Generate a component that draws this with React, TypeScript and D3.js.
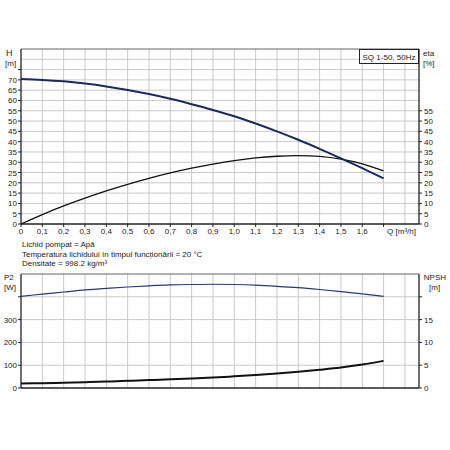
import React from 'react';
import * as d3 from 'd3';

// flow points (m3/h) shared by all curves
const flow = [0, 0.1, 0.2, 0.3, 0.4, 0.5, 0.6, 0.7, 0.8, 0.9, 1.0, 1.1, 1.2, 1.3, 1.4, 1.5, 1.6, 1.7];
const head = [70.4, 70.0, 69.3, 68.2, 66.8, 65.1, 63.1, 60.8, 58.2, 55.4, 52.3, 48.8, 45.0, 40.9, 36.5, 31.9, 27.1, 22.2];
const eta = [0, 4.6, 8.8, 12.6, 16.1, 19.3, 22.2, 24.8, 27.1, 29.1, 30.8, 32.1, 32.9, 33.2, 32.8, 31.5, 29.2, 25.8];
const power = [402, 412, 421, 430, 437, 443, 448, 452, 454, 455, 454, 451, 446, 440, 432, 423, 413, 402];
const npsh = [1.0, 1.05, 1.15, 1.28, 1.42, 1.57, 1.73, 1.9, 2.08, 2.3, 2.55, 2.84, 3.17, 3.55, 4.0, 4.5, 5.15, 5.95];

const qTicks = [0, 0.1, 0.2, 0.3, 0.4, 0.5, 0.6, 0.7, 0.8, 0.9, 1.0, 1.1, 1.2, 1.3, 1.4, 1.5, 1.6];
const qGrid = d3.range(1, 19).map(i => i / 10);
const hTicks = d3.range(0, 75, 5);
const etaTicks = d3.range(0, 60, 5);
const pTicks = [0, 100, 200, 300];
const npshTicks = [0, 5, 10, 15];

const notes = [
  'Lichid pompat = Apă',
  'Temperatura lichidului în timpul funcționării = 20 °C',
  'Densitate = 998.2 kg/m³',
];

const font = '"Liberation Sans", Arial, sans-serif';
const ink = '#222';
const grid = '#c9c9c9';

export default function App() {
  const x = d3.scaleLinear().domain([0, 1.866]).range([21, 419]);
  const yH = d3.scaleLinear().domain([0, 85]).range([224, 49]);
  const yP = d3.scaleLinear().domain([0, 500]).range([388, 274]);
  const yN = d3.scaleLinear().domain([0, 25]).range([388, 274]);

  const mk = (ys: number[], y: d3.ScaleLinear<number, number>) =>
    d3.line<number>()
      .x((_, i) => x(flow[i]))
      .y(d => y(d))
      .curve(d3.curveCatmullRom)(ys) || '';

  const [l, r] = x.range();

  const frame = (yScale: d3.ScaleLinear<number, number>, hGrid: number[]) => {
    const [b, t] = yScale.range();
    return (
      <g>
        {qGrid.map(q => (
          <line key={'v' + q} x1={x(q)} x2={x(q)} y1={t} y2={b} stroke={grid} strokeWidth={1} />
        ))}
        {hGrid.map(v => (
          <line key={'h' + v} x1={l} x2={r} y1={yScale(v)} y2={yScale(v)} stroke={grid} strokeWidth={1} />
        ))}
        <line x1={l} x2={r} y1={t} y2={t} stroke="#666" strokeWidth={1} />
        <line x1={l} x2={l} y1={t} y2={b} stroke={ink} strokeWidth={1.3} />
        <line x1={r} x2={r} y1={t} y2={b} stroke={ink} strokeWidth={1.3} />
        <line x1={l} x2={r} y1={b} y2={b} stroke={ink} strokeWidth={1.3} />
      </g>
    );
  };

  return (
    <svg width={450} height={450} style={{ position: 'absolute', left: 0, top: 0, background: '#fff' }}
      fontFamily={font} fontSize={8} fill={ink}>
      {/* top chart */}
      {frame(yH, d3.range(5, 85, 5))}
      {hTicks.concat([75]).map(v => (
        <line key={'lt' + v} x1={l - 3} x2={l} y1={yH(v)} y2={yH(v)} stroke={ink} />
      ))}
      {hTicks.map(v => (
        <text key={'ll' + v} x={l - 4} y={yH(v) + 3} textAnchor="end">{v}</text>
      ))}
      {etaTicks.map(v => (
        <g key={'e' + v}>
          <line x1={r} x2={r + 3} y1={yH(v)} y2={yH(v)} stroke={ink} />
          <text x={r + 5} y={yH(v) + 3}>{v}</text>
        </g>
      ))}
      {qTicks.concat([1.7]).map(q => (
        <line key={'xt' + q} x1={x(q)} x2={x(q)} y1={224} y2={227} stroke={ink} />
      ))}
      {qTicks.map(q => (
        <text key={'xl' + q} x={x(q)} y={234} textAnchor="middle">{q === 0 ? '0' : q.toFixed(1).replace('.', ',')}</text>
      ))}
      <text x={416} y={234} textAnchor="end">Q [m³/h]</text>
      <text x={6} y={56} fontSize={9}>H</text>
      <text x={5} y={66}>[m]</text>
      <text x={423} y={56}>eta</text>
      <text x={423} y={66}>[%]</text>
      <rect x={359.5} y={49.5} width={59} height={14} fill="#fff" stroke={ink} strokeWidth={1} />
      <text x={389} y={59.5} textAnchor="middle">SQ 1-50, 50Hz</text>
      <path d={mk(eta, yH)} fill="none" stroke="#111" strokeWidth={1.3} />
      <path d={mk(head, yH)} fill="none" stroke="#1c2a5a" strokeWidth={2} />

      {/* notes */}
      {notes.map((n, i) => (
        <text key={n} x={22} y={247 + i * 9.5}>{n}</text>
      ))}

      {/* bottom chart */}
      {frame(yP, [100, 200, 300, 400])}
      {pTicks.concat([400]).map(v => (
        <line key={'pt' + v} x1={l - 3} x2={l} y1={yP(v)} y2={yP(v)} stroke={ink} />
      ))}
      {pTicks.map(v => (
        <text key={'pl' + v} x={l - 4} y={yP(v) + 3} textAnchor="end">{v}</text>
      ))}
      {npshTicks.concat([20]).map(v => (
        <line key={'nt' + v} x1={r} x2={r + 3} y1={yN(v)} y2={yN(v)} stroke={ink} />
      ))}
      {npshTicks.map(v => (
        <text key={'nl' + v} x={r + 5} y={yN(v) + 3}>{v}</text>
      ))}
      <text x={4} y={280}>P2</text>
      <text x={4} y={290}>[W]</text>
      <text x={446} y={280} textAnchor="end">NPSH</text>
      <text x={429} y={290}>[m]</text>
      <path d={mk(power, yP)} fill="none" stroke="#2a3a72" strokeWidth={1.2} />
      <path d={mk(npsh, yN)} fill="none" stroke="#111" strokeWidth={2} />
    </svg>
  );
}
